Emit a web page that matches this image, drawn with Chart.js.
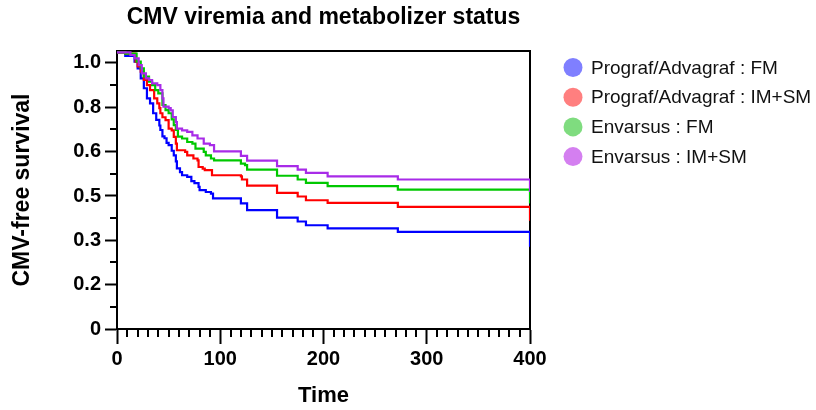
<!DOCTYPE html>
<html><head><meta charset="utf-8">
<script src="https://cdn.jsdelivr.net/npm/chart.js@4.4.1/dist/chart.umd.min.js"></script>
<style>html,body{margin:0;padding:0;background:#fff;}#wrap{width:816px;height:410px;}</style>
</head><body><div id="wrap"><canvas id="c" width="816" height="410"></canvas></div>
<script>
const TITLE = 'CMV viremia and metabolizer status';
const X_TITLE = 'Time';
const Y_TITLE = 'CMV-free survival';
const SERIES_LABELS = ['Prograf/Advagraf : FM', 'Prograf/Advagraf : IM+SM', 'Envarsus : FM', 'Envarsus : IM+SM'];
const SERIES_COLORS = ['#0000FF', '#FF0000', '#00C800', '#A82BE8'];
const LEGEND_COLORS = ['#7F7FFF', '#FF7F7F', '#7FDC7F', '#D47FF0'];

const PF_FM_T = [0, 8, 17, 20, 23, 26, 29, 32, 35, 38, 41, 42, 44, 46, 48, 50, 53, 55, 57, 58, 61, 63, 68, 72, 75, 79, 80, 86, 91, 93, 120, 126, 155, 175, 183, 204, 272, 400];
const PF_FM_S = [1.04, 1.027, 1.005, 0.98, 0.942, 0.905, 0.867, 0.848, 0.811, 0.786, 0.765, 0.748, 0.724, 0.717, 0.70, 0.691, 0.67, 0.653, 0.63, 0.604, 0.59, 0.578, 0.572, 0.556, 0.548, 0.534, 0.522, 0.515, 0.509, 0.491, 0.472, 0.447, 0.419, 0.404, 0.39, 0.378, 0.365, 0.309];

const PF_IMSM_T = [0, 8, 18, 20, 23, 26, 29, 32, 36, 39, 41, 42, 44, 47, 50, 53, 55, 57, 58, 66, 68, 74, 78, 79, 83, 85, 92, 120, 121, 126, 155, 175, 183, 204, 272, 400];
const PF_IMSM_S = [1.04, 1.035, 1.005, 0.987, 0.967, 0.936, 0.917, 0.898, 0.867, 0.848, 0.83, 0.811, 0.796, 0.785, 0.753, 0.747, 0.722, 0.697, 0.672, 0.666, 0.653, 0.641, 0.634, 0.609, 0.603, 0.597, 0.578, 0.574, 0.562, 0.539, 0.512, 0.498, 0.484, 0.474, 0.459, 0.407];

const ENV_FM_T = [0, 8, 19, 23, 26, 31, 34, 37, 40, 44, 47, 50, 53, 55, 57, 59, 63, 68, 73, 76, 84, 86, 91, 94, 120, 124, 126, 155, 175, 183, 204, 272, 400];
const ENV_FM_S = [1.04, 1.035, 1.005, 0.98, 0.949, 0.93, 0.917, 0.898, 0.886, 0.842, 0.823, 0.811, 0.788, 0.766, 0.748, 0.723, 0.716, 0.703, 0.697, 0.678, 0.666, 0.653, 0.641, 0.634, 0.622, 0.616, 0.599, 0.576, 0.562, 0.549, 0.537, 0.524, 0.472];

const ENV_IMSM_T = [0, 13, 17, 21, 24, 28, 31, 34, 39, 42, 44, 45, 50, 52, 54, 57, 58, 63, 68, 73, 78, 84, 90, 94, 120, 126, 155, 175, 183, 204, 272, 400];
const ENV_IMSM_S = [1.04, 1.03, 1.017, 0.992, 0.961, 0.942, 0.936, 0.923, 0.917, 0.898, 0.867, 0.836, 0.83, 0.822, 0.797, 0.778, 0.753, 0.747, 0.741, 0.728, 0.716, 0.697, 0.691, 0.668, 0.651, 0.633, 0.612, 0.599, 0.587, 0.574, 0.562, 0.515];

const X_TICKS = [0, 100, 200, 300, 400];
const X_MINOR = [10,20,30,40,50,60,70,80,90,110,120,130,140,150,160,170,180,190,210,220,230,240,250,260,270,280,290,310,320,330,340,350,360,370,380,390];
const Y_TICK_VALUES = [0, 0.1667, 0.3333, 0.5, 0.6667, 0.8333, 1.0];
const Y_TICK_LABELS = ['0', '0.2', '0.3', '0.5', '0.6', '0.8', '1.0'];
const Y_MINOR = [0.0833, 0.25, 0.4167, 0.5833, 0.75, 0.9167];

const FONT = '"Liberation Sans", Arial, Helvetica, sans-serif';

const SERIES = [[PF_FM_T, PF_FM_S], [PF_IMSM_T, PF_IMSM_S], [ENV_FM_T, ENV_FM_S], [ENV_IMSM_T, ENV_IMSM_S]];
const datasets = SERIES.map(([t, s], i) => ({
  label: SERIES_LABELS[i],
  data: t.map((x, k) => ({x: x, y: s[k]})),
  borderColor: SERIES_COLORS[i],
  backgroundColor: LEGEND_COLORS[i],
  borderWidth: 2.2,
  stepped: true,
  pointRadius: 0,
  fill: false,
  order: 4 - i
}));

const extras = {
  id: 'extras',
  beforeDatasetsDraw(chart) {
    const {ctx, chartArea: a} = chart;
    const xs = chart.scales.x, ys = chart.scales.y;
    ctx.save();
    ctx.strokeStyle = '#000';
    ctx.lineWidth = 2;
    ctx.beginPath();
    ctx.moveTo(a.left, a.top); ctx.lineTo(a.right, a.top); ctx.lineTo(a.right, a.bottom);
    ctx.stroke();
    ctx.beginPath();
    X_MINOR.forEach(v => { const px = Math.round(xs.getPixelForValue(v)); ctx.moveTo(px, a.bottom); ctx.lineTo(px, a.bottom + 8); });
    Y_MINOR.forEach(v => { const py = Math.round(ys.getPixelForValue(v)); ctx.moveTo(a.left, py); ctx.lineTo(a.left - 7, py); });
    ctx.stroke();
    ctx.restore();
  },
  afterDraw(chart) {
    const {ctx, chartArea: a} = chart;
    ctx.save();
    ctx.fillStyle = '#000';
    ctx.font = 'bold 23px ' + FONT;
    ctx.textAlign = 'center';
    ctx.textBaseline = 'middle';
    ctx.fillText(TITLE, (a.left + a.right) / 2, 18);
    ctx.font = '19px ' + FONT;
    ctx.textAlign = 'left';
    chart.data.datasets.forEach((ds, i) => {
      const y = 67.5 + i * 29.7;
      ctx.beginPath();
      ctx.fillStyle = ds.backgroundColor;
      ctx.arc(573, y, 9.5, 0, Math.PI * 2);
      ctx.fill();
      ctx.fillStyle = '#111';
      ctx.fillText(ds.label, 591, y + 1);
    });
    ctx.restore();
  }
};

new Chart(document.getElementById('c'), {
  type: 'line',
  data: {datasets},
  plugins: [extras],
  options: {
    responsive: false,
    animation: false,
    devicePixelRatio: 1,
    layout: {padding: {top: 51, right: 286, bottom: 0, left: 0}},
    plugins: {legend: {display: false}, title: {display: false}, tooltip: {enabled: false}},
    scales: {
      x: {
        type: 'linear', min: 0, max: 400,
        afterBuildTicks: s => { s.ticks = X_TICKS.map(v => ({value: v})); },
        afterFit: s => { s.height = 81; },
        ticks: {color: '#000', font: {family: FONT, size: 20, weight: 'bold'}, padding: 3, maxRotation: 0, autoSkip: false},
        grid: {display: true, drawOnChartArea: false, drawTicks: true, tickLength: 15, tickWidth: 2, tickColor: '#000'},
        border: {display: true, color: '#000', width: 2},
        title: {display: true, text: X_TITLE, color: '#000', font: {family: FONT, size: 22, weight: 'bold'}, padding: {top: 0, bottom: 1}}
      },
      y: {
        type: 'linear', min: 0, max: 1.045,
        afterBuildTicks: s => { s.ticks = Y_TICK_VALUES.map(v => ({value: v})); },
        afterFit: s => { s.width = 117; },
        ticks: {color: '#000', font: {family: FONT, size: 20, weight: 'bold'}, padding: 4, autoSkip: false,
          callback: (v, i) => Y_TICK_LABELS[i]},
        grid: {display: true, drawOnChartArea: false, drawTicks: true, tickLength: 12, tickWidth: 2, tickColor: '#000'},
        border: {display: true, color: '#000', width: 2},
        title: {display: true, text: Y_TITLE, color: '#000', font: {family: FONT, size: 23, weight: 'bold'}, padding: {top: 9, bottom: 0}}
      }
    }
  }
});
</script></body></html>
